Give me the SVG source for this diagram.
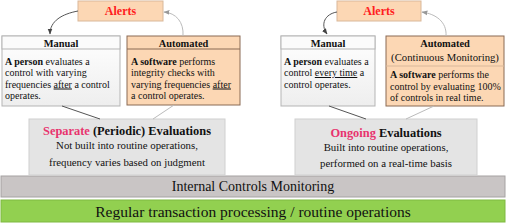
<svg xmlns="http://www.w3.org/2000/svg" width="508" height="224" viewBox="0 0 508 224" font-family="'Liberation Serif', 'Times New Roman', serif">
<defs>
<linearGradient id="manGrad" x1="0" y1="0" x2="0" y2="1">
<stop offset="0" stop-color="#ffffff"/>
<stop offset="1" stop-color="#eeeeee"/>
</linearGradient>
<marker id="arrDark" viewBox="0 0 10 10" refX="9" refY="5" markerWidth="6" markerHeight="6" orient="auto">
<path d="M0,1 L10,5 L0,9 Z" fill="#444"/>
</marker>
<marker id="arrLight" viewBox="0 0 10 10" refX="9" refY="5" markerWidth="6" markerHeight="6" orient="auto">
<path d="M0,1 L10,5 L0,9 Z" fill="#999"/>
</marker>
</defs>
<style>
text{font-family:"Liberation Serif","Times New Roman",serif;fill:#111}
.b{font-weight:bold}
.alert{fill:#ff2020;font-weight:bold;font-size:12px}
.alertbox{fill:#fcd7b4;stroke:#d9b89a;stroke-width:1}
.auto{fill:#fcd7b4;stroke:#8a6a55;stroke-width:1}
.man{fill:url(#manGrad);stroke:#b5b5b5;stroke-width:1}
.manhead{fill:#fbfbfb;stroke:#b5b5b5;stroke-width:1}
.head{font-size:10.4px;font-weight:bold;text-anchor:middle}
.body{font-size:10px}
.eval{fill:#e4e4e4;stroke:#d0d0d0;stroke-width:1}
.etitle{font-size:12.4px;font-weight:bold;text-anchor:middle}
.esub{font-size:10.8px;text-anchor:middle}
.pink{fill:#e8336e}
.u{text-decoration:underline}
.dark{fill:none;stroke:#555;stroke-width:1}
.light{fill:none;stroke:#bbb;stroke-width:1}
</style>

<g id="bar-green">
<rect x="1" y="200" width="504" height="22" fill="#92d050" stroke="#7fb940" stroke-width="1"/>
<text x="253" y="216.5" font-size="15.5" text-anchor="middle">Regular transaction processing / routine operations</text>
</g>
<g id="bar-monitoring">
<rect x="1" y="176" width="504" height="21" fill="#c9c5c5" stroke="#a5a2a2" stroke-width="1"/>
<text x="253" y="191" font-size="14" text-anchor="middle">Internal Controls Monitoring</text>
</g>

<g id="separate">
<rect class="eval" x="29" y="119" width="196" height="56"/>
<text class="etitle" x="127" y="134.5"><tspan class="pink">Separate</tspan> (Periodic) Evaluations</text>
<text class="esub" x="127" y="149">Not built into routine operations,</text>
<text class="esub" x="127" y="166">frequency varies based on judgment</text>
</g>

<g id="ongoing">
<rect class="eval" x="295" y="119" width="182" height="56"/>
<text class="etitle" x="386" y="137"><tspan class="pink">Ongoing</tspan> Evaluations</text>
<text class="esub" x="386" y="150.5">Built into routine operations,</text>
<text class="esub" x="386" y="166.5">performed on a real-time basis</text>
</g>

<g id="alerts-left">
<rect class="alertbox" x="78" y="1" width="85" height="20"/>
<text class="alert" x="120.5" y="15" text-anchor="middle">Alerts</text>
</g>
<g id="alerts-right">
<rect class="alertbox" x="337" y="1" width="84" height="20"/>
<text class="alert" x="379" y="15" text-anchor="middle">Alerts</text>
</g>

<g id="manual-left">
<rect class="man" x="2" y="36" width="118" height="70"/>
<rect class="manhead" x="2" y="36" width="118" height="13"/>
<text class="head" x="61" y="46.5">Manual</text>
<text class="body" x="5" y="64.5"><tspan class="b">A person</tspan> evaluates a</text>
<text class="body" x="5" y="76">control with varying</text>
<text class="body" x="5" y="87.5">frequencies <tspan class="u">after</tspan> a control</text>
<text class="body" x="5" y="99">operates.</text>
</g>

<g id="automated-left">
<rect class="auto" x="127" y="36" width="113" height="69"/>
<line x1="127" y1="49" x2="240" y2="49" stroke="#8a6a55" stroke-width="1"/>
<text class="head" x="183.5" y="46.5">Automated</text>
<text class="body" x="131" y="64.5"><tspan class="b">A software</tspan> performs</text>
<text class="body" x="131" y="76">integrity checks with</text>
<text class="body" x="131" y="87.5">varying frequencies <tspan class="u">after</tspan></text>
<text class="body" x="131" y="99">a control operates.</text>
</g>

<g id="manual-right">
<rect class="man" x="281" y="36" width="94" height="70"/>
<rect class="manhead" x="281" y="36" width="94" height="13"/>
<text class="head" x="328" y="46.5">Manual</text>
<text class="body" x="284" y="64.5"><tspan class="b">A person</tspan> evaluates a</text>
<text class="body" x="284" y="76">control <tspan class="u">every time</tspan> a</text>
<text class="body" x="284" y="87.5">control operates.</text>
</g>

<g id="automated-right">
<rect class="auto" x="386" y="36" width="118" height="70" stroke="#e0bfa0"/>
<line x1="386" y1="66" x2="504" y2="66" stroke="#d9b89a" stroke-width="1"/>
<text class="head" x="445" y="47">Automated</text>
<text x="445" y="61" font-size="10.7" text-anchor="middle">(Continuous Monitoring)</text>
<text class="body" x="390" y="78"><tspan class="b">A software</tspan> performs the</text>
<text class="body" x="390" y="89.5">control by evaluating 100%</text>
<text class="body" x="390" y="101">of controls in real time.</text>
</g>

<g id="connectors">
<path class="dark" d="M78,11 C62,14 50,21 50,34" marker-end="url(#arrDark)"/>
<path class="light" d="M183,36 C184,22 176,13 164,12" marker-end="url(#arrLight)"/>
<path class="dark" d="M337,12 C325,14 320,24 327,34" marker-end="url(#arrDark)"/>
<path class="light" d="M446,36 C447,22 436,14 422,12" marker-end="url(#arrLight)"/>
<line class="dark" x1="62" y1="106" x2="100" y2="119" stroke="#777"/>
<line class="light" x1="174" y1="105" x2="153" y2="119"/>
<line class="dark" x1="329" y1="106" x2="366" y2="119" stroke="#777"/>
<line class="light" x1="434" y1="106" x2="406" y2="119"/>
</g>
</svg>
